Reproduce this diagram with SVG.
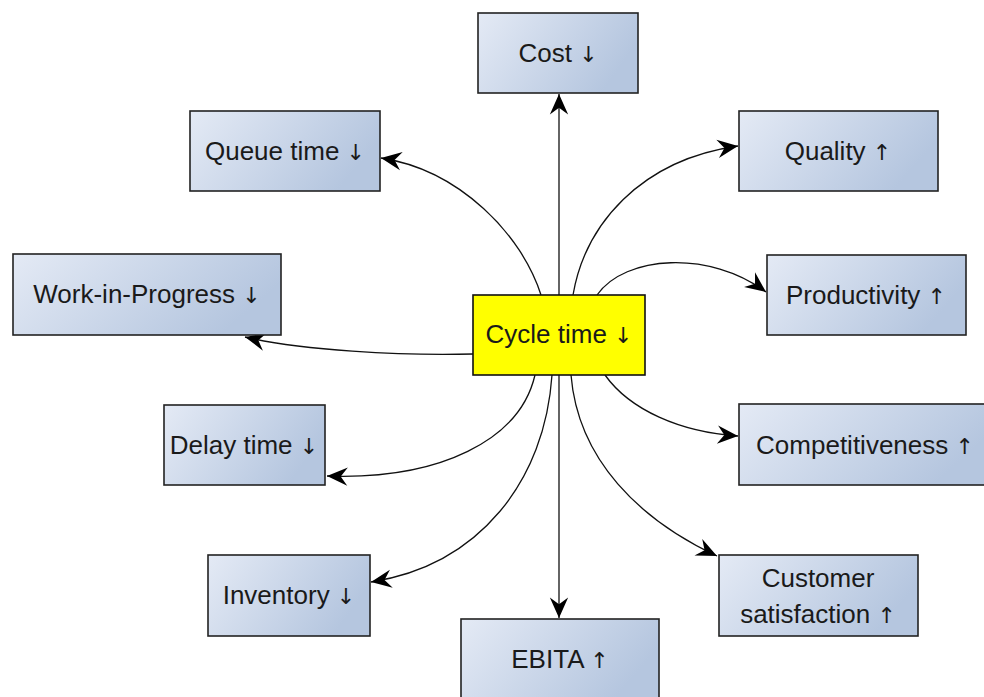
<svg xmlns="http://www.w3.org/2000/svg" width="984" height="697" viewBox="0 0 984 697">
  <defs>
    <linearGradient id="boxFill" x1="0" y1="0" x2="1" y2="0.35">
      <stop offset="0" stop-color="#e4eaf5"/>
      <stop offset="1" stop-color="#b5c6df"/>
    </linearGradient>
    <marker id="arrow" markerUnits="userSpaceOnUse" markerWidth="24" markerHeight="24" viewBox="-20 -10 21 20" refX="0" refY="0" orient="auto">
      <path d="M0,0 L-18,-8 L-12,0 L-18,8 Z" fill="#000"/>
    </marker>
    <style>
      .box { fill: url(#boxFill); stroke: #222; stroke-width: 1.6; }
      .core { fill: #ffff00; stroke: #111; stroke-width: 1.6; }
      .lbl { font-family: "Liberation Sans", Arial, sans-serif; font-size: 26px; fill: #1a1a1a; text-anchor: middle; }
      .ar { font-family: "DejaVu Sans", sans-serif; font-size: 22px; fill: #1a1a1a; }
      .edge { fill: none; stroke: #111; stroke-width: 1.3; marker-end: url(#arrow); }
    </style>
  </defs>
  <rect width="984" height="697" fill="#ffffff"/>

  <g id="connectors">
    <path class="edge" d="M559,295 L559,94"/>
    <path class="edge" d="M559,375 L559,618"/>
    <path class="edge" d="M541,295 C522,235 460,170 381,158"/>
    <path class="edge" d="M573,295 C585,225 640,160 738,146"/>
    <path class="edge" d="M597,295 C625,255 710,250 766,292"/>
    <path class="edge" d="M473,354 C400,356 300,350 245,337"/>
    <path class="edge" d="M535,375 C520,440 440,480 327,476"/>
    <path class="edge" d="M552,375 C545,480 480,565 371,582"/>
    <path class="edge" d="M571,375 C578,460 640,520 717,556"/>
    <path class="edge" d="M605,375 C630,410 680,432 738,436"/>
  </g>

  <g id="cost">
    <rect class="box" x="478" y="13" width="160" height="80"/>
    <text class="lbl" x="558" y="62">Cost <tspan class="ar">↓</tspan></text>
  </g>
  <g id="queue-time">
    <rect class="box" x="190" y="111" width="190" height="80"/>
    <text class="lbl" x="285" y="160">Queue time <tspan class="ar">↓</tspan></text>
  </g>
  <g id="quality">
    <rect class="box" x="739" y="111" width="199" height="80"/>
    <text class="lbl" x="838" y="160">Quality <tspan class="ar">↑</tspan></text>
  </g>
  <g id="work-in-progress">
    <rect class="box" x="13" y="254" width="268" height="81"/>
    <text class="lbl" x="147" y="303">Work-in-Progress <tspan class="ar">↓</tspan></text>
  </g>
  <g id="productivity">
    <rect class="box" x="767" y="255" width="199" height="80"/>
    <text class="lbl" x="866" y="304">Productivity <tspan class="ar">↑</tspan></text>
  </g>
  <g id="cycle-time">
    <rect class="core" x="473" y="295" width="172" height="80"/>
    <text class="lbl" x="559" y="343">Cycle time <tspan class="ar">↓</tspan></text>
  </g>
  <g id="delay-time">
    <rect class="box" x="164" y="405" width="161" height="80"/>
    <text class="lbl" x="244" y="454">Delay time <tspan class="ar">↓</tspan></text>
  </g>
  <g id="competitiveness">
    <rect class="box" x="739" y="404" width="252" height="81"/>
    <text class="lbl" x="865" y="454">Competitiveness <tspan class="ar">↑</tspan></text>
  </g>
  <g id="inventory">
    <rect class="box" x="208" y="555" width="162" height="81"/>
    <text class="lbl" x="289" y="604">Inventory <tspan class="ar">↓</tspan></text>
  </g>
  <g id="customer-satisfaction">
    <rect class="box" x="719" y="555" width="199" height="81"/>
    <text class="lbl" x="818" y="587">Customer</text>
    <text class="lbl" x="818" y="623">satisfaction <tspan class="ar">↑</tspan></text>
  </g>
  <g id="ebita">
    <rect class="box" x="461" y="619" width="198" height="80"/>
    <text class="lbl" x="560" y="668">EBITA <tspan class="ar">↑</tspan></text>
  </g>
</svg>
